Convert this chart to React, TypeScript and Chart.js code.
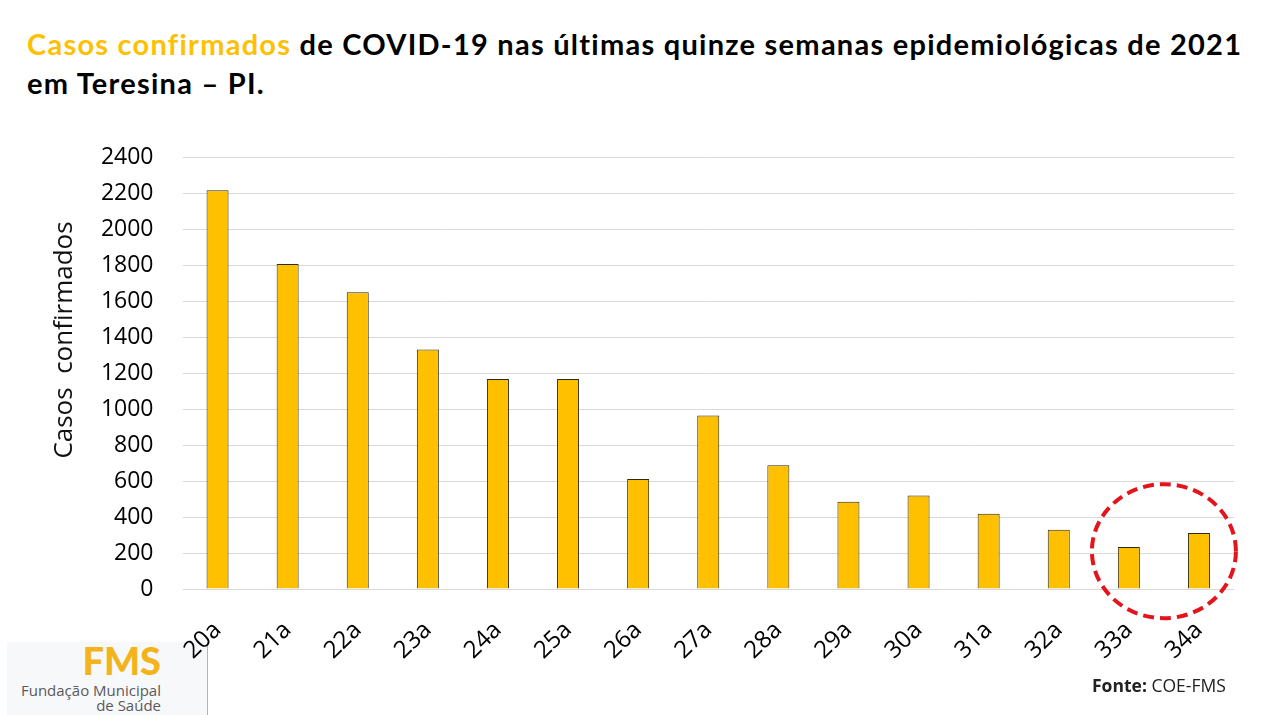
import { useEffect, useRef } from 'react'
import { Chart, registerables } from 'chart.js'

Chart.register(...registerables)

// semanas epidemiológicas e casos confirmados
const semanas = ['20a', '21a', '22a', '23a', '24a', '25a', '26a', '27a', '28a', '29a', '30a', '31a', '32a', '33a', '34a']
const casos = [2215, 1805, 1648, 1330, 1167, 1167, 611, 964, 687, 485, 520, 418, 329, 233, 311]
const yMax = 2400
const yStep = 200
// semanas destacadas pelo círculo vermelho
const destaque = ['33a', '34a']
const eixoY = 'Casos  confirmados'

const extras = {
  id: 'extras',
  afterDraw(chart: any) {
    const { ctx, chartArea, scales } = chart
    // título do eixo y
    ctx.save()
    ctx.translate(chartArea.left - 118, chartArea.top + 183)
    ctx.rotate(-Math.PI / 2)
    ctx.font = '26px "Open Sans"'
    ctx.fillStyle = '#111'
    ctx.textAlign = 'center'
    ctx.textBaseline = 'middle'
    ctx.fillText(eixoY, 0, 0)
    ctx.restore()

    // círculo tracejado em volta das últimas semanas
    const i0 = semanas.indexOf(destaque[0])
    const i1 = semanas.indexOf(destaque[1])
    const cx = (scales.x.getPixelForValue(i0) + scales.x.getPixelForValue(i1)) / 2
    const cy = scales.y.getPixelForValue(210)
    ctx.save()
    ctx.strokeStyle = '#E3141B'
    ctx.lineWidth = 4
    ctx.setLineDash([11, 6])
    ctx.beginPath()
    ctx.ellipse(cx, cy, 72, 67, 0, 0, Math.PI * 2)
    ctx.stroke()
    ctx.restore()
  },
}

export default function App() {
  const chartRef = useRef<HTMLCanvasElement>(null)
  const chartInstance = useRef<Chart | null>(null)

  useEffect(() => {
    if (!chartRef.current) return
    const ctx = chartRef.current.getContext('2d')
    if (!ctx) return

    if (chartInstance.current) {
      chartInstance.current.destroy()
    }

    chartInstance.current = new Chart(ctx, {
      type: 'bar',
      data: {
        labels: semanas,
        datasets: [{
          data: casos,
          backgroundColor: '#FFC000',
          borderColor: '#2e2a18',
          borderWidth: 1,
          barPercentage: 0.314,
          categoryPercentage: 1,
        }]
      },
      options: {
        animation: false,
        responsive: false,
        layout: { padding: { top: 157, right: 39, bottom: 0, left: 0 } },
        plugins: {
          legend: { display: false },
          tooltip: { enabled: false },
        },
        scales: {
          x: {
            grid: { display: false },
            border: { display: false },
            ticks: {
              color: '#000',
              font: { family: '"Open Sans", sans-serif', size: 24 },
              minRotation: 44,
              maxRotation: 44,
              padding: 19,
            },
            afterFit: (s: any) => { s.height = 126 },
          },
          y: {
            min: 0,
            max: yMax,
            ticks: {
              stepSize: yStep,
              color: '#000',
              font: { family: '"Open Sans", sans-serif', size: 23 },
              padding: 29,
              callback: (v: any) => String(v),
            },
            grid: { color: '#d9d9d9', drawTicks: false },
            border: { display: false },
            afterFit: (s: any) => { s.width = 182.5 },
          }
        }
      },
      plugins: [extras],
    })

    return () => {
      if (chartInstance.current) {
        chartInstance.current.destroy()
        chartInstance.current = null
      }
    }
  }, [])

  return (
    <div style={{ position: 'fixed', left: 0, top: 0, width: 1273, height: 715, background: '#fff', overflow: 'hidden' }}>
      <div style={{
        position: 'absolute', left: 27, top: 24, whiteSpace: 'nowrap',
        font: 'bold 29px Lato, sans-serif', lineHeight: '39px', letterSpacing: '1.25px', color: '#000',
      }}>
        <span style={{ color: '#FFC000' }}>Casos confirmados</span> de COVID-19 nas últimas quinze semanas epidemiológicas de 2021
        <br />
        em Teresina – PI.
      </div>

      {/* logo FMS */}
      <div style={{
        position: 'absolute', left: 7, top: 642, width: 200, height: 73,
        background: '#f7f8fa', borderRight: '1px solid #b5b5b5',
      }} />
      <div style={{ position: 'absolute', left: 0, top: 641, width: 161, textAlign: 'right', font: '900 38px Lato, sans-serif', lineHeight: 1, color: '#F3B31B' }}>FMS</div>
      <div style={{ position: 'absolute', left: 0, top: 683, width: 161, textAlign: 'right', font: '15px "Open Sans", sans-serif', lineHeight: 1, color: '#5a5a5a', whiteSpace: 'nowrap' }}>Fundação Municipal</div>
      <div style={{ position: 'absolute', left: 0, top: 698, width: 161, textAlign: 'right', font: '15px "Open Sans", sans-serif', lineHeight: 1, color: '#5a5a5a' }}>de Saúde</div>

      <canvas ref={chartRef} width={1273} height={715} style={{ position: 'absolute', left: 0, top: 0 }} />

      <div style={{ position: 'absolute', left: 1092, top: 677, font: '17.5px "Open Sans", sans-serif', lineHeight: 1, color: '#222', whiteSpace: 'nowrap' }}>
        <b>Fonte:</b> COE-FMS
      </div>
    </div>
  )
}
